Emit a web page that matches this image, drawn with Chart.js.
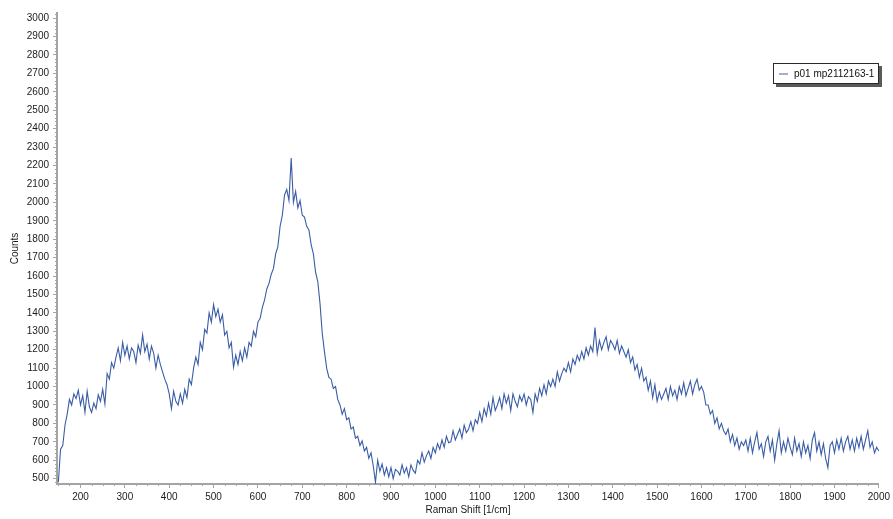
<!DOCTYPE html>
<html>
<head>
<meta charset="utf-8">
<title>Raman spectrum p01 mp2112163-1</title>
<script src="https://cdn.jsdelivr.net/npm/chart.js@4.4.1/dist/chart.umd.min.js"></script>
<style>
  html, body { margin: 0; padding: 0; background: #fff; }
  #wrap { position: relative; width: 893px; height: 519px; }
  #legend {
    position: absolute; left: 773px; top: 63px; width: 104px; height: 19px;
    border: 1px solid #2a2a2a; background: #fff;
    box-shadow: 3px 3px 0 #5a5a5a;
    font: 10px "Liberation Sans", Arial, sans-serif; color: #111;
    display: flex; align-items: center; box-sizing: content-box;
  }
  #legend .swatch { width: 9px; height: 0; border-top: 2px solid #9eb0d6; margin: 0 6px 0 5px; }
</style>
</head>
<body>
<div id="wrap">
  <canvas id="spectrum" width="893" height="519"></canvas>
  <div id="legend"><span class="swatch"></span><span>p01 mp2112163-1</span></div>
</div>
<script>
// Raman shift grid of the spectrometer (1/cm)
const shiftStart = 150;
const shiftStep = 5;

// counts, one block per 100 1/cm
const counts150 = [480, 660, 680, 790, 850, 930, 900, 960, 935, 980];
const counts200 = [900, 950, 860, 975, 890, 860, 910, 880, 955, 920, 985, 905, 1070, 1040, 1130, 1100, 1160, 1210, 1140, 1240];
const counts300 = [1170, 1220, 1150, 1210, 1190, 1130, 1225, 1180, 1280, 1190, 1230, 1150, 1220, 1180, 1100, 1170, 1120, 1080, 1040, 1010];
const counts400 = [960, 880, 975, 920, 900, 960, 910, 985, 940, 1040, 1010, 1100, 1160, 1120, 1240, 1200, 1310, 1290, 1400, 1350];
const counts500 = [1445, 1380, 1420, 1350, 1390, 1280, 1300, 1210, 1240, 1105, 1170, 1120, 1190, 1140, 1210, 1160, 1240, 1220, 1300, 1270];
const counts600 = [1350, 1370, 1430, 1470, 1530, 1560, 1610, 1640, 1720, 1760, 1870, 1930, 2040, 2070, 2010, 2240, 2000, 2060, 1970, 2010];
const counts700 = [1930, 1920, 1870, 1850, 1770, 1720, 1620, 1570, 1450, 1290, 1190, 1100, 1050, 1040, 990, 1000, 930, 900, 850, 880];
const counts800 = [820, 830, 770, 780, 720, 730, 680, 705, 650, 670, 610, 640, 570, 480, 600, 540, 580, 520, 560, 510];
const counts900 = [560, 500, 550, 540, 520, 575, 530, 560, 510, 575, 545, 530, 600, 580, 640, 590, 625, 650, 610, 670];
const counts1000 = [640, 690, 660, 710, 670, 730, 695, 700, 760, 710, 740, 770, 720, 790, 750, 770, 810, 760, 820, 800];
const counts1100 = [860, 810, 880, 840, 910, 850, 940, 870, 900, 940, 880, 960, 910, 950, 870, 960, 920, 890, 950, 920];
const counts1200 = [960, 900, 945, 930, 860, 960, 920, 990, 950, 1010, 960, 1030, 1000, 1040, 1000, 1080, 1030, 1070, 1100, 1080];
const counts1300 = [1130, 1080, 1150, 1120, 1170, 1140, 1190, 1150, 1210, 1170, 1220, 1190, 1320, 1180, 1250, 1200, 1240, 1270, 1200, 1250];
const counts1400 = [1230, 1200, 1250, 1180, 1220, 1190, 1160, 1200, 1130, 1160, 1090, 1120, 1050, 1100, 1030, 1050, 980, 1030, 940, 1010];
const counts1500 = [920, 970, 930, 960, 990, 930, 1000, 950, 980, 930, 1000, 960, 1020, 950, 990, 1030, 960, 1010, 1040, 980];
const counts1600 = [1000, 970, 900, 900, 850, 870, 800, 830, 770, 800, 760, 740, 770, 700, 740, 680, 720, 660, 700, 680];
const counts1700 = [710, 650, 720, 640, 700, 750, 660, 690, 620, 700, 730, 650, 710, 600, 690, 760, 640, 700, 650, 720];
const counts1800 = [670, 630, 720, 650, 690, 620, 700, 640, 680, 610, 710, 750, 650, 700, 630, 690, 610, 560, 680, 700];
const counts1900 = [640, 710, 660, 720, 650, 700, 730, 660, 710, 650, 720, 670, 730, 660, 710, 760, 670, 700, 640, 670, 650];

// tick labels
const xTickValues = [200, 300, 400, 500, 600, 700, 800, 900, 1000, 1100, 1200, 1300, 1400, 1500, 1600, 1700, 1800, 1900, 2000];
const yTickValues = [500, 600, 700, 800, 900, 1000, 1100, 1200, 1300, 1400, 1500, 1600, 1700, 1800, 1900, 2000, 2100, 2200, 2300, 2400, 2500, 2600, 2700, 2800, 2900, 3000];

const counts = [].concat(counts150, counts200, counts300, counts400, counts500, counts600, counts700,
  counts800, counts900, counts1000, counts1100, counts1200, counts1300, counts1400, counts1500,
  counts1600, counts1700, counts1800, counts1900);
const points = counts.map((c, i) => ({ x: shiftStart + i * shiftStep, y: c }));

const axisColor = "#a4a4a4";
const labelFont = { family: "'Liberation Sans', Arial, sans-serif", size: 10 };

// small ticks between the labelled ones
const minorTicks = {
  id: "minorTicks",
  afterDraw(chart) {
    const ctx = chart.ctx;
    const xs = chart.scales.x;
    const ys = chart.scales.y;
    ctx.save();
    ctx.strokeStyle = axisColor;
    ctx.lineWidth = 1;
    ctx.beginPath();
    for (let v = 150; v <= 2000; v += 25) {
      if (v % 100 === 0) continue;
      const px = Math.round(xs.getPixelForValue(v)) + 0.5;
      ctx.moveTo(px, xs.top);
      ctx.lineTo(px, xs.top + 2);
    }
    for (let v = 480; v <= 3020; v += 20) {
      if (v % 100 === 0) continue;
      const py = Math.round(ys.getPixelForValue(v)) + 0.5;
      ctx.moveTo(ys.right, py);
      ctx.lineTo(ys.right - 2, py);
    }
    ctx.stroke();
    ctx.restore();
  },
};

new Chart(document.getElementById("spectrum"), {
  type: "line",
  data: {
    datasets: [
      {
        label: "p01 mp2112163-1",
        data: points,
        borderColor: "#3a5da6",
        borderWidth: 1.1,
        pointRadius: 0,
        tension: 0,
        fill: false,
      },
    ],
  },
  options: {
    responsive: false,
    animation: false,
    events: [],
    layout: { padding: { top: 13, right: 12, left: 0, bottom: 0 } },
    plugins: {
      legend: { display: false },
      tooltip: { enabled: false },
    },
    scales: {
      x: {
        type: "linear",
        min: 147,
        max: 2000,
        afterBuildTicks: (scale) => {
          scale.ticks = xTickValues.map((v) => ({ value: v }));
        },
        afterFit: (scale) => {
          scale.height = 35;
        },
        grid: { drawOnChartArea: false, drawTicks: true, tickLength: 4, color: axisColor },
        border: { display: true, color: axisColor, width: 2 },
        ticks: { color: "#1b1b1b", font: labelFont, padding: 3, maxRotation: 0, autoSkip: false, callback: (v) => String(v) },
        title: { display: true, text: "Raman Shift [1/cm]", color: "#1b1b1b", font: labelFont, padding: { top: 0, bottom: 3 } },
      },
      y: {
        type: "linear",
        min: 471,
        max: 3028,
        afterBuildTicks: (scale) => {
          scale.ticks = yTickValues.map((v) => ({ value: v }));
        },
        afterFit: (scale) => {
          scale.width = 57;
        },
        grid: { drawOnChartArea: false, drawTicks: true, tickLength: 4, color: axisColor },
        border: { display: true, color: axisColor, width: 2 },
        ticks: { color: "#1b1b1b", font: labelFont, padding: 4, autoSkip: false, callback: (v) => String(v) },
        title: { display: true, text: "Counts", color: "#1b1b1b", font: labelFont, padding: { top: 9, bottom: 0 } },
      },
    },
  },
  plugins: [minorTicks],
});
</script>
</body>
</html>
